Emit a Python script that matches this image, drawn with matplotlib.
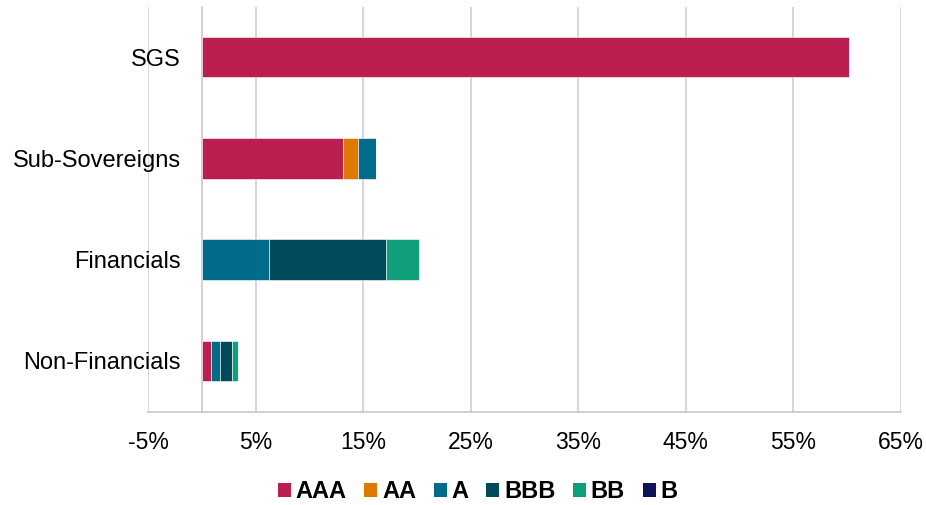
import numpy as np
import matplotlib.pyplot as plt
from matplotlib.patches import Patch

plt.rcParams['font.family'] = ['Liberation Sans', 'DejaVu Sans']

# data (% of portfolio)
categories = ['SGS', 'Sub-Sovereigns', 'Financials', 'Non-Financials']
ratings = ['AAA', 'AA', 'A', 'BBB', 'BB', 'B']
aaa = [60.2, 13.1, 0.0, 0.85]
aa = [0.0, 1.4, 0.0, 0.0]
a = [0.0, 1.7, 6.2, 0.85]
bbb = [0.0, 0.0, 10.9, 1.1]
bb = [0.0, 0.0, 3.1, 0.55]
b = [0.0, 0.0, 0.0, 0.0]
xticks = [-5, 5, 15, 25, 35, 45, 55, 65]

colors = ['#BA1F50', '#DE7800', '#006C89', '#004A5C', '#109F7A', '#0D1556']
series = [aaa, aa, a, bbb, bb, b]

fig = plt.figure(figsize=(9.26, 5.05), dpi=100)
ax = fig.add_axes([0.160, 0.185, 0.813, 0.802])

y = np.arange(len(categories))
left = np.zeros(len(categories))
for vals, col in zip(series, colors):
    vals = np.array(vals)
    ax.barh(y, vals, left=left, height=0.4, color=col,
            edgecolor='white', linewidth=0.4, zorder=3)
    left += vals

ax.grid(axis='x', color='#D0D0D0', linewidth=1.2, zorder=0)
# category axis sits at 0, labels hang over the -5% gridline
ax.spines['left'].set_position(('data', 0))
ax.spines['left'].set_color('#C8C8C8')
ax.spines['left'].set_linewidth(1.2)
for s in ['top', 'right']:
    ax.spines[s].set_visible(False)
ax.spines['bottom'].set_color('#C8C8C8')
ax.spines['bottom'].set_linewidth(1.2)

ax.set_xlim(-5, 65)
ax.set_ylim(3.5, -0.5)
ax.set_xticks(xticks)
ax.set_xticklabels([f'{t}%' for t in xticks], fontsize=16.5)
ax.set_yticks(y)
ax.set_yticklabels(categories, fontsize=17)
ax.tick_params(length=0)
ax.tick_params(axis='y', pad=15)
ax.tick_params(axis='x', pad=14)

handles = [Patch(facecolor=c, edgecolor='none') for c in colors]
fig.legend(handles, ratings, loc='center', bbox_to_anchor=(0.516, 0.026),
           ncol=6, frameon=False, handlelength=0.55, handleheight=0.55,
           handletextpad=0.2, columnspacing=0.75,
           prop={'weight': 'bold', 'size': 17})

fig.savefig('out.png', dpi=100)
